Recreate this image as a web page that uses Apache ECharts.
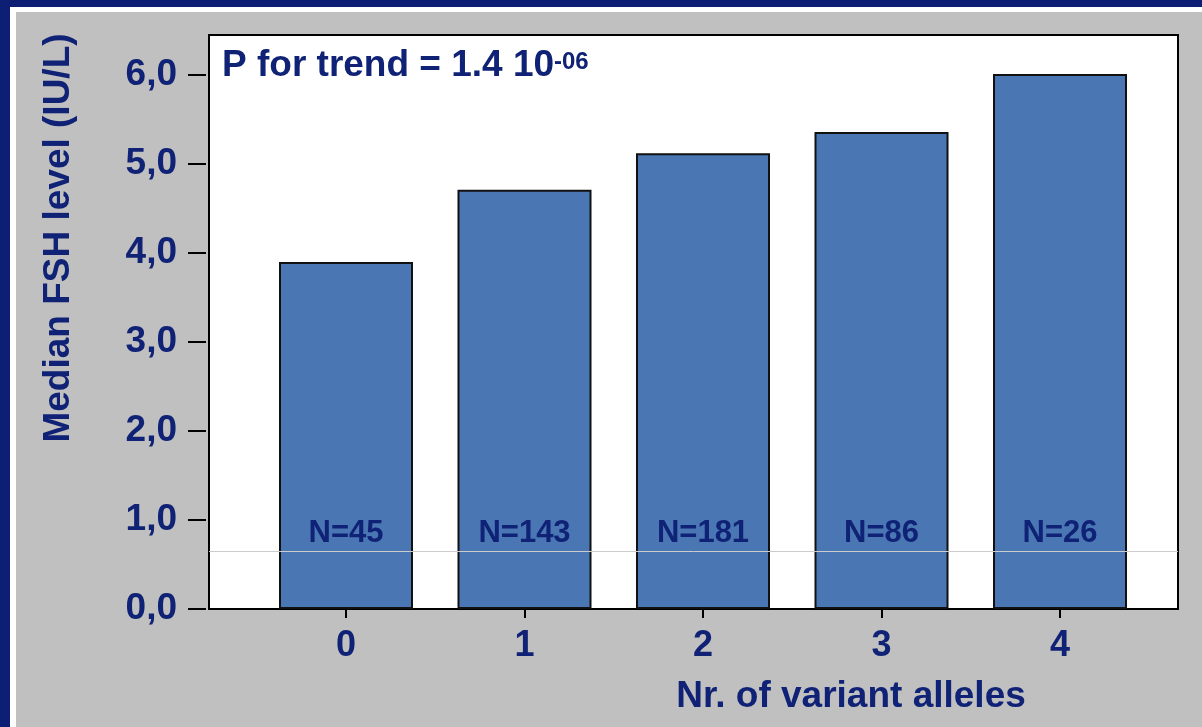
<!DOCTYPE html>
<html>
<head>
<meta charset="utf-8">
<script src="https://cdn.jsdelivr.net/npm/echarts@6/dist/echarts.min.js"></script>
<style>
html,body{margin:0;padding:0;background:#c0c0c0;}
#chart{width:1202px;height:727px;}
</style>
</head>
<body>
<div id="chart"></div>
<script>
// ---- data ----
const categories = [0, 1, 2, 3, 4];
const medianFSH = [3.90, 4.71, 5.12, 5.36, 6.01];
const nLabels = ['N=45', 'N=143', 'N=181', 'N=86', 'N=26'];
const yTicks = [0, 1, 2, 3, 4, 5, 6];
const refLineValue = 0.652;
const trendText = 'P for trend = 1.4 10';
const trendExp = '-06';
const yTitle = 'Median FSH level (IU/L)';
const xTitle = 'Nr. of variant alleles';

const NAVY = '#0f2275';
const FONT = 'Liberation Sans, Arial, sans-serif';

const chart = echarts.init(document.getElementById('chart'));
chart.setOption({
  backgroundColor: '#c0c0c0',
  animation: false,
  textStyle: { fontFamily: FONT },
  grid: {
    left: 209, top: 35, right: 24, bottom: 118,
    show: true, backgroundColor: '#ffffff', borderColor: '#000000', borderWidth: 2,
    containLabel: false
  },
  xAxis: {
    type: 'value',
    min: -0.7675, max: 4.661,
    splitLine: { show: false },
    axisLine: { show: false, onZero: false },
    axisTick: { show: true, length: 9, customValues: categories, lineStyle: { color: '#000', width: 2 } },
    axisLabel: {
      show: true, customValues: categories, margin: 19,
      color: NAVY, fontSize: 36, fontWeight: 'bold', fontFamily: FONT,
      formatter: v => String(v)
    }
  },
  yAxis: {
    type: 'value',
    min: 0, max: 6.449,
    offset: 3,
    splitLine: { show: false },
    axisLine: { show: false, onZero: false },
    axisTick: { show: true, length: 18, customValues: yTicks, lineStyle: { color: '#000', width: 2 } },
    axisLabel: {
      show: true, customValues: yTicks, margin: 29,
      padding: [5, 0, 0, 0],
      color: NAVY, fontSize: 37, fontWeight: 'bold', fontFamily: FONT,
      formatter: v => v.toFixed(1).replace('.', ',')
    }
  },
  graphic: [
    { type: 'rect', z: -10, shape: { x: 0, y: 0, width: 1202, height: 7 }, style: { fill: '#0c1f74' } },
    { type: 'rect', z: -10, shape: { x: 0, y: 0, width: 10, height: 727 }, style: { fill: '#0c1f74' } },
    { type: 'rect', z: -10, shape: { x: 10, y: 7, width: 1192, height: 5 }, style: { fill: '#ffffff' } },
    { type: 'rect', z: -10, shape: { x: 10, y: 7, width: 6, height: 720 }, style: { fill: '#ffffff' } },
    {
      type: 'text', z: 100, left: 222, top: 47,
      style: { text: trendText, fill: NAVY, font: 'bold 37px ' + FONT }
    },
    {
      type: 'text', z: 100, left: 554, top: 50,
      style: { text: trendExp, fill: NAVY, font: 'bold 24px ' + FONT }
    },
    {
      type: 'text', z: 100, x: 59, y: 238, rotation: Math.PI / 2,
      style: { text: yTitle, fill: NAVY, font: 'bold 37px ' + FONT, align: 'center', verticalAlign: 'middle' }
    },
    {
      type: 'text', z: 100, x: 851, y: 697,
      style: { text: xTitle, fill: NAVY, font: 'bold 37px ' + FONT, align: 'center', verticalAlign: 'middle' }
    }
  ],
  series: [{
    type: 'bar',
    barWidth: 134,
    data: categories.map((c, i) => [c, medianFSH[i]]),
    itemStyle: { color: '#4a77b4', borderColor: '#111111', borderWidth: 2 },
    label: {
      show: true, position: 'insideBottom', distance: 60,
      formatter: p => nLabels[p.dataIndex],
      color: NAVY, fontSize: 31, fontWeight: 'bold', fontFamily: FONT
    },
    markLine: {
      silent: true, symbol: 'none', animation: false,
      label: { show: false },
      lineStyle: { color: '#cccccc', width: 1, type: 'solid' },
      data: [{ yAxis: refLineValue }]
    }
  }]
});
</script>
</body>
</html>
